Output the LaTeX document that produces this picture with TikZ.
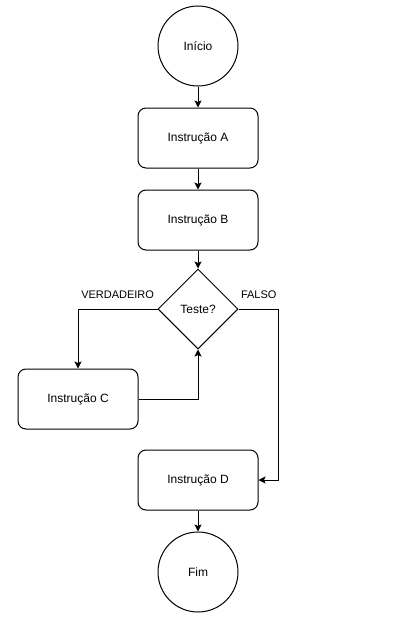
\documentclass[tikz,border=0pt]{standalone}
\usepackage{fontspec}
\setmainfont{Liberation Sans}
\usetikzlibrary{positioning,shapes.geometric,arrows.meta}

\begin{document}
\begin{tikzpicture}[x=1pt, y=1pt, node distance=21pt, line width=1pt,
  font=\fontsize{12}{14}\selectfont,
  terminal/.style={circle, draw=black, minimum size=80pt, inner sep=0pt},
  instrucao/.style={rectangle, rounded corners=8pt, draw=black, minimum width=120pt, minimum height=60pt, text centered},
  teste/.style={diamond, draw=black, minimum width=80pt, minimum height=80pt, inner sep=0pt},
  rotulo/.style={inner sep=0pt, font=\fontsize{11}{13}\selectfont},
  seta/.style={-{Stealth[length=7pt, width=7pt, inset=1.5pt]}}]
\useasboundingbox (0,0) rectangle (404,-621);

% Coluna principal
\node (inicio) [terminal] at (198,-46) {Início};
\node (instA) [instrucao, below=of inicio] {Instrução A};
\node (instB) [instrucao, below=of instA] {Instrução B};
\node (teste) [teste, below=18pt of instB] {Teste?};

% Ramos
\node (instC) [instrucao, below=19pt of teste, xshift=-120pt] {Instrução C};
\node (instD) [instrucao, below=100pt of teste] {Instrução D};
\node (fim) [terminal, below=21pt of instD] {Fim};

% Rótulos
\node (verdadeiro) [rotulo, above left=10pt and 3pt of teste.west] {VERDADEIRO};
\node (falso) [rotulo, above right=10pt and 2pt of teste.east] {FALSO};

% Ligações
\draw[seta] (inicio) -- (instA);
\draw[seta] (instA) -- (instB);
\draw[seta] (instB) -- (teste);
\draw[seta] (teste.west) -| (instC.north);
\draw[seta] (instC.east) -| (teste.south);
\draw[seta] (teste.east) -- ++(40pt,0) |- (instD.east);
\draw[seta] (instD) -- (fim);

\end{tikzpicture}
\end{document}
